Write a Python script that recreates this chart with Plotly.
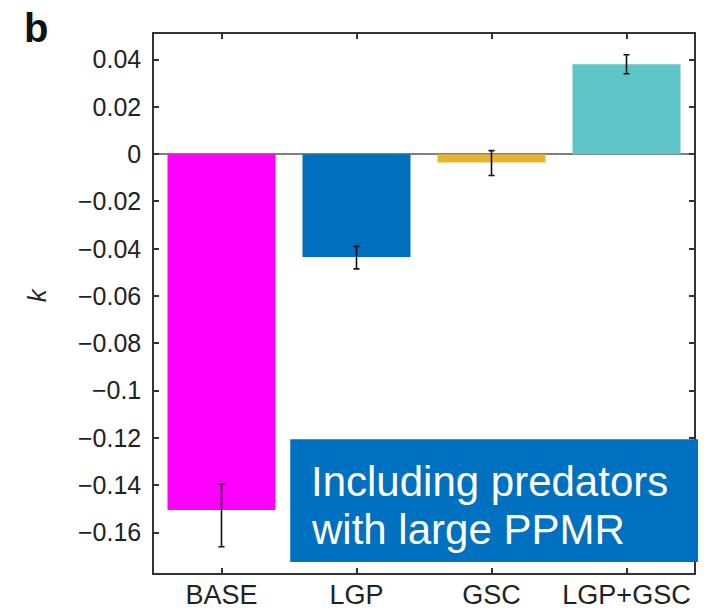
import plotly.graph_objects as go

categories = ["BASE", "LGP", "GSC", "LGP+GSC"]
k_values = [-0.1505, -0.0435, -0.0035, 0.038]
err_plus = [0.0110, 0.0045, 0.0050, 0.0040]
err_minus = [0.0155, 0.0050, 0.0055, 0.0040]
bar_colors = ["#FF00FF", "#006FBE", "#E8B333", "#5EC4C6"]

ytick_vals = [0.04, 0.02, 0, -0.02, -0.04, -0.06, -0.08, -0.1, -0.12, -0.14, -0.16]
ytick_text = ["0.04", "0.02", "0", "−0.02", "−0.04", "−0.06", "−0.08", "−0.1",
              "−0.12", "−0.14", "−0.16"]

FONT = "Liberation Sans, Arial, Helvetica, sans-serif"
AXC = "#333333"

fig = go.Figure()
fig.add_trace(go.Bar(
    x=categories, y=k_values, width=0.8,
    marker=dict(color=bar_colors, line=dict(width=0)),
    error_y=dict(type="data", symmetric=False, array=err_plus, arrayminus=err_minus,
                 color="#111111", thickness=1.6, width=3),
    showlegend=False,
))

fig.update_layout(
    width=715, height=611,
    margin=dict(l=154, r=21, t=34, b=38),
    paper_bgcolor="white", plot_bgcolor="white",
    font=dict(family=FONT, color="#222222", size=25),
    xaxis=dict(
        range=[-0.5, 3.5], showline=True, linecolor=AXC, linewidth=1.5, mirror="ticks",
        ticks="inside", ticklen=5, tickwidth=1.5, tickcolor=AXC,
        tickfont=dict(size=27), showgrid=False, zeroline=False, automargin=False,
        ticklabelstandoff=-3,
    ),
    yaxis=dict(
        range=[-0.1771, 0.0508], showline=True, linecolor=AXC, linewidth=1.5, mirror="ticks",
        ticks="inside", ticklen=5, tickwidth=1.5, tickcolor=AXC,
        tickvals=ytick_vals, ticktext=ytick_text, tickfont=dict(size=25),
        showgrid=False, zeroline=True, zerolinecolor="#7f7f7f", zerolinewidth=2,
        ticklabelstandoff=6, automargin=False,
    ),
    shapes=[dict(type="rect", xref="paper", yref="paper",
                 x0=0.2523, x1=1.0074, y0=0.0204, y1=0.2481,
                 fillcolor="#0070C0", line=dict(width=0), layer="above")],
    annotations=[
        dict(text="Including predators", xref="paper", yref="paper", x=0.287, y=0.1694,
             xanchor="left", yanchor="middle", showarrow=False,
             font=dict(size=42, color="white", family=FONT)),
        dict(text="with large PPMR", xref="paper", yref="paper", x=0.287, y=0.0806,
             xanchor="left", yanchor="middle", showarrow=False,
             font=dict(size=42, color="white", family=FONT)),
        dict(text="<b>b</b>", xref="paper", yref="paper", x=-0.2449, y=1.0111,
             xanchor="left", yanchor="middle", showarrow=False,
             font=dict(size=40, color="#111111", family=FONT)),
        dict(text="<i>k</i>", xref="paper", yref="paper", x=-0.2152, y=0.5167,
             xanchor="center", yanchor="middle", showarrow=False, textangle=-90,
             font=dict(size=26, color="#222222", family=FONT)),
    ],
)

fig.write_html("out.html")
